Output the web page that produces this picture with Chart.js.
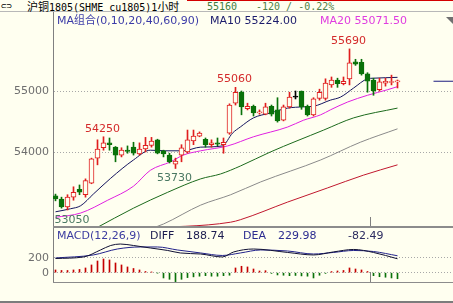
<!DOCTYPE html>
<html>
<head>
<meta charset="utf-8">
<title>沪铜1805 1小时</title>
<script src="https://cdn.jsdelivr.net/npm/chart.js@4/dist/chart.umd.min.js"></script>
<style>
  html, body { margin: 0; padding: 0; }
  body { width: 453px; height: 303px; position: relative; overflow: hidden; background: #fffff0;
         font-family: "DejaVu Sans", "Noto Sans CJK SC", sans-serif; font-size: 11px; line-height: 13px; }
  .t { position: absolute; white-space: nowrap; }
  .line { position: absolute; }
  .row1 { font-family: "DejaVu Sans Mono", "Noto Sans CJK SC", monospace; font-size: 10px; line-height: 11px; top: 1px; }
  .cjk { font-family: "Noto Sans CJK SC", sans-serif; font-size: 11px; }
  canvas { position: absolute; left: 0; }
</style>
</head>
<body>
<div class="line" style="left:187px;top:0;width:266px;height:1px;background:#d40000"></div>
<div class="line" style="left:0;top:11px;width:453px;height:1px;background:#b8b8b8"></div>
<span class="t row1" style="left:1px;font-size:9px">⊂⊃</span>
<span class="t row1" style="left:27px"><span class="cjk">沪铜</span>1805(SHME cu1805)1<span class="cjk">小时</span></span>
<span class="t row1" style="left:207px;color:#3f7d3f">55160</span>
<span class="t row1" style="left:256px;color:#4f7f47">-120 / -0.22%</span>

<canvas id="mainChart" width="453" height="215" style="top:12px"></canvas>
<canvas id="macdChart" width="453" height="54" style="top:228px"></canvas>

<div class="line" style="left:53px;top:226px;width:400px;height:2px;background:#8c8c8c"></div>
<div class="line" style="left:53px;top:282px;width:400px;height:1px;background:#8c8c8c"></div>
<div class="line" style="left:0;top:301px;width:453px;height:2px;background:#7c7c7c"></div>
<div class="line" style="left:446px;top:17px;width:0;height:0;border-top:7px solid #707070;border-left:7px solid transparent"></div>

<span class="t" style="left:57px;top:14px;color:#3c3ca8">MA组合(0,10,20,40,60,90)</span>
<span class="t" style="left:210px;top:14px;color:#1c1c6c">MA10 55224.00</span>
<span class="t" style="left:320px;top:14px;color:#e03ce0">MA20 55071.50</span>

<span class="t" style="left:57px;top:229px;color:#3c3ca0">MACD(12,26,9)</span>
<span class="t" style="left:150px;top:229px;color:#1c1c50">DIFF</span>
<span class="t" style="left:186px;top:229px;color:#1c1c50">188.74</span>
<span class="t" style="left:243px;top:229px;color:#2c2c90">DEA</span>
<span class="t" style="left:278px;top:229px;color:#2c2c90">229.98</span>
<span class="t" style="left:348px;top:229px;color:#2c2c60">-82.49</span>

<script>
// 1 hour candles, oldest first
const opens  = [53280,53230,53100,53260,53390,53300,53490,53900,54070,54150,54080,53950,54030,54080,53970,54050,54110,54200,54020,53950,53800,53950,54000,54180,54260,54210,54120,54150,54120,54310,54800,54980,54710,54750,54640,54620,54750,54690,54520,54740,54900,55000,54750,54610,54880,54880,55100,55180,55120,55200,55480,55470,55280,55180,55020,55130,55140,55150];
const highs  = [53310,53260,53300,53430,53460,53560,53900,54200,54250,54230,54090,54070,54100,54160,54150,54240,54240,54210,54030,53980,53900,54120,54360,54360,54330,54230,54200,54230,54230,54790,55060,55000,54800,54770,54690,54800,54770,54890,54770,54980,55000,55000,54770,54890,55030,55200,55230,55210,55230,55690,55520,55520,55300,55210,55210,55210,55260,55180];
const lows   = [53200,53080,53050,53210,53300,53260,53480,53790,54030,54030,53840,53920,53980,53950,53950,54000,54080,53970,53920,53820,53730,53840,53980,54120,54250,54080,54080,54100,53980,54290,54770,54610,54690,54590,54620,54610,54590,54490,54510,54720,54870,54700,54590,54590,54850,54850,55060,55060,55100,55100,55420,55260,54980,54930,55000,55080,55100,55050];
const closes = [53230,53100,53260,53340,53340,53530,53890,54050,54150,54120,53950,54030,54010,53980,54050,54110,54180,53980,53970,53840,53850,54070,54200,54260,54310,54120,54150,54130,54160,54770,54980,54740,54750,54640,54660,54740,54620,54510,54740,54900,54900,54740,54610,54870,54980,55130,55180,55120,55160,55460,55440,55280,55160,55000,55150,55160,55150,55160];

// moving averages, read at points along each curve (candle index, price)
const ma10Idx = [0, 2.5, 4.2, 6.3, 9.2, 13, 15.8, 18.3, 21.3, 24.2, 27.8, 29.5, 30.8, 33, 35.8, 38.7, 41.3, 43, 45.8, 47.5, 49.7, 52, 53, 57];
const ma10Val = [53020, 53070, 53120, 53310, 53570, 53870, 54030, 54020, 54020, 54080, 54100, 54310, 54410, 54560, 54640, 54720, 54740, 54750, 54850, 54900, 55050, 55200, 55210, 55224];
const ma20Idx = [0, 4.2, 8.7, 13, 15.8, 19.2, 21.3, 24.2, 28.7, 33, 38.7, 41.3, 44.2, 45.8, 48.7, 52, 55.3, 57];
const ma20Val = [52930, 53000, 53210, 53440, 53700, 53840, 53950, 54020, 54100, 54250, 54410, 54520, 54610, 54690, 54820, 54930, 55020, 55071.5];
const ma40Idx = [6.7, 13, 18.7, 24.2, 27.5, 30.8, 35.8, 44.7, 49.7, 57];
const ma40Val = [52750, 53080, 53340, 53560, 53640, 53770, 54000, 54360, 54560, 54720];
const ma60Idx = [15.8, 18, 24.2, 29.2, 34.2, 44.2, 50.8, 57];
const ma60Val = [52740, 52820, 53130, 53300, 53510, 53870, 54160, 54380];
const ma90Idx = [14.2, 29.2, 30.8, 38.7, 45.3, 51.3, 57];
const ma90Val = [52750, 52850, 52890, 53180, 53410, 53620, 53790];

// MACD(12,26,9)
const macdBars = [37,30,30,37,44,64,105,159,186,173,132,105,78,57,37,16,10,-5,-72,-90,-126,-90,-67,-57,-48,-41,-48,-48,-41,-35,64,87,78,50,23,27,-10,-31,-35,-41,-38,-44,-48,-72,-35,-10,15,23,30,64,50,37,16,-41,-55,-62,-72,-82.49];
const diffIdx = [0, 4.7, 7.5, 9.2, 10.8, 13, 15.8, 18.7, 20.8, 24.2, 27.8, 29.7, 33, 38.7, 43, 46.3, 49.7, 53, 57];
const diffVal = [193, 214, 309, 370, 390, 370, 336, 302, 268, 254, 214, 282, 322, 275, 241, 282, 316, 275, 188.74];
const deaIdx = [0, 6.3, 10.3, 14.2, 17, 20.3, 24.2, 27.8, 30.8, 34.2, 38.7, 43, 46.3, 49.7, 53, 57];
const deaVal = [200, 241, 322, 350, 350, 309, 268, 234, 268, 309, 295, 254, 275, 302, 288, 229.98];

const priceTicks = [54000, 55000];
const macdTicks = [0, 200];
const peakIdx = [8, 30, 49];
const troughIdx = [2, 20];
const lastPrice = 55160;
const sessionBreak = 52.5;

const bg = '#fffff0';
const upColor = '#e01e1e';
const downColor = '#0a720a';
const flatColor = '#000000';
const xMin = -2.5 / 6, xMax = 66.25;

const idx = closes.map((_, i) => i);
const candleColor = i => closes[i] > opens[i] ? upColor : (closes[i] < opens[i] ? downColor : flatColor);
const pts = (xs, ys) => xs.map((x, i) => ({ x: x, y: ys[i] }));

const maLine = (label, xs, ys, color) => ({
  type: 'line', label: label, data: pts(xs, ys),
  borderColor: color, borderWidth: 1, pointRadius: 0,
  cubicInterpolationMode: 'monotone', order: 3
});

const axisFont = { family: 'DejaVu Sans', size: 11 };

const sessionMark = {
  id: 'sessionMark',
  afterDatasetsDraw(chart) {
    const { ctx, chartArea, scales } = chart;
    const x = Math.floor(scales.x.getPixelForValue(sessionBreak)) + 0.5;
    ctx.save();
    ctx.strokeStyle = '#808080';
    ctx.lineWidth = 1;
    ctx.beginPath();
    ctx.moveTo(x, chartArea.bottom - 10);
    ctx.lineTo(x, chartArea.bottom);
    ctx.stroke();
    ctx.restore();
  }
};

const extremeLabels = {
  id: 'extremeLabels',
  afterDatasetsDraw(chart) {
    const { ctx, scales: { x, y } } = chart;
    ctx.save();
    ctx.font = '11px "DejaVu Sans"';
    ctx.textAlign = 'center';
    ctx.textBaseline = 'alphabetic';
    ctx.fillStyle = '#d42a2a';
    peakIdx.forEach(i => ctx.fillText(String(highs[i]), x.getPixelForValue(i) - 1, y.getPixelForValue(highs[i]) - 5));
    ctx.fillStyle = '#4a7862';
    troughIdx.forEach(i => {
      const px = Math.max(x.getPixelForValue(i) - 1, x.left + 19);
      ctx.fillText(String(lows[i]), px, y.getPixelForValue(lows[i]) + 13);
    });
    ctx.restore();
  }
};

const yAxis = (min, max, ticks) => ({
  min: min, max: max,
  afterBuildTicks: s => { s.ticks = ticks.map(v => ({ value: v })); },
  afterFit: s => { s.width = 53; s.paddingTop = 0; s.paddingBottom = 0; },
  ticks: { color: '#6e6e6e', font: axisFont, padding: 4, callback: v => String(v) },
  grid: { color: '#a8a8a8', drawTicks: false },
  border: { color: '#808080', width: 1, dash: [1, 2] }
});

const xAxis = { type: 'linear', min: xMin, max: xMax, offset: false, display: false };

const common = {
  responsive: false,
  devicePixelRatio: 1,
  animation: false,
  layout: { padding: 0 },
  plugins: { legend: { display: false }, tooltip: { enabled: false } }
};

new Chart(document.getElementById('mainChart'), {
  type: 'bar',
  data: {
    datasets: [
      maLine('MA10', ma10Idx, ma10Val, '#14145e'),
      maLine('MA20', ma20Idx, ma20Val, '#e020e0'),
      maLine('MA40', ma40Idx, ma40Val, '#1c6a1c'),
      maLine('MA60', ma60Idx, ma60Val, '#8a8a8a'),
      maLine('MA90', ma90Idx, ma90Val, '#c0182e'),
      {
        type: 'line', label: 'last', data: [{ x: 63, y: lastPrice }, { x: xMax, y: lastPrice }],
        borderColor: '#1c1c80', borderWidth: 1, pointRadius: 0, order: 3
      },
      {
        label: 'body',
        data: idx.map(i => ({ x: i, y: [Math.min(opens[i], closes[i]), Math.max(opens[i], closes[i])] })),
        backgroundColor: idx.map(i => closes[i] > opens[i] ? bg : candleColor(i)),
        borderColor: idx.map(candleColor),
        borderWidth: 1, borderSkipped: false, barThickness: 5, minBarLength: 1,
        grouped: false, order: 1
      },
      {
        label: 'wick',
        data: idx.map(i => ({ x: i, y: [lows[i], highs[i]] })),
        backgroundColor: idx.map(candleColor),
        barThickness: 1, grouped: false, order: 2
      }
    ]
  },
  options: Object.assign({}, common, {
    scales: { x: xAxis, y: yAxis(52771, 56295, priceTicks) }
  }),
  plugins: [extremeLabels, sessionMark]
});

new Chart(document.getElementById('macdChart'), {
  type: 'bar',
  data: {
    datasets: [
      {
        type: 'line', label: 'DIFF', data: pts(diffIdx, diffVal),
        borderColor: '#101034', borderWidth: 1, pointRadius: 0, cubicInterpolationMode: 'monotone', order: 1
      },
      {
        type: 'line', label: 'DEA', data: pts(deaIdx, deaVal),
        borderColor: '#22228a', borderWidth: 1, pointRadius: 0, cubicInterpolationMode: 'monotone', order: 1
      },
      {
        label: 'MACD',
        data: idx.map(i => ({ x: i, y: macdBars[i] })),
        backgroundColor: macdBars.map(v => v >= 0 ? '#c40000' : '#0a720a'),
        barThickness: 1, grouped: false, order: 2
      }
    ]
  },
  options: Object.assign({}, common, {
    scales: { x: xAxis, y: yAxis(-127, 608, macdTicks) }
  }),
  plugins: [sessionMark]
});
</script>
</body>
</html>
